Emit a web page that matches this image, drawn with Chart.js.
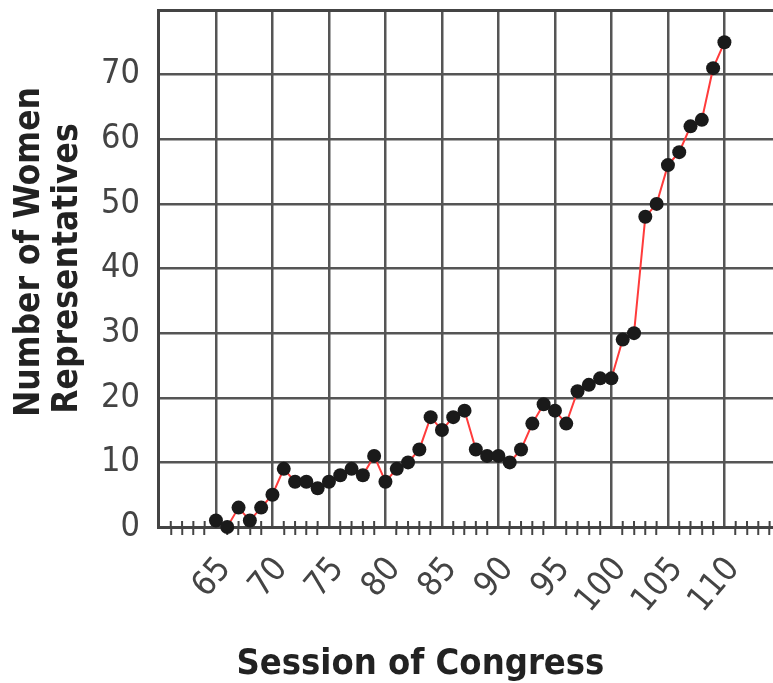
<!DOCTYPE html>
<html>
<head>
<meta charset="utf-8">
<title>Women Representatives by Session of Congress</title>
<script src="https://cdn.jsdelivr.net/npm/chart.js@4/dist/chart.umd.min.js"></script>
<style>
  html, body { margin: 0; padding: 0; background: #fff; overflow: hidden; }
  canvas { display: block; }
</style>
</head>
<body>
<canvas id="chart" width="773" height="683"></canvas>
<script>
// values, one per session
const sessions = [65, 66, 67, 68, 69, 70, 71, 72, 73, 74, 75, 76, 77, 78, 79, 80, 81, 82, 83, 84, 85, 86, 87,
    88, 89, 90, 91, 92, 93, 94, 95, 96, 97, 98, 99, 100, 101, 102, 103, 104, 105, 106, 107, 108, 109, 110];
const womenReps = [1, 0, 3, 1, 3, 5, 9, 7, 7, 6, 7, 8, 9, 8, 11, 7, 9, 10, 12, 17, 15, 17, 18,
    12, 11, 11, 10, 12, 16, 19, 18, 16, 21, 22, 23, 23, 29, 30, 48, 50, 56, 58, 62, 63, 71, 75];
const xTickLabels = [65, 70, 75, 80, 85, 90, 95, 100, 105, 110];
const yTickLabels = [0, 10, 20, 30, 40, 50, 60, 70];

const FONT = "'DejaVu Sans Condensed', 'DejaVu Sans', sans-serif";
const gridColor = '#555';

const points = sessions.map((s, i) => ({ x: s, y: womenReps[i] }));

// no extra room around the plot, the picture is cropped tight
function noPadding(scale) {
    scale.paddingLeft = 0;
    scale.paddingRight = 0;
    scale.paddingTop = 0;
    scale.paddingBottom = 0;
}

// minor ticks poke a little above the axis line too
const minorTicksUp = {
    id: 'minorTicksUp',
    beforeDatasetsDraw(chart) {
        const x = chart.scales.x;
        const ctx = chart.ctx;
        ctx.save();
        ctx.strokeStyle = '#444';
        ctx.lineWidth = 2;
        ctx.beginPath();
        x.ticks.forEach(t => {
            if (t.value % 5 === 0) return;
            const px = x.getPixelForValue(t.value);
            ctx.moveTo(px, x.top - 6);
            ctx.lineTo(px, x.top);
        });
        ctx.stroke();
        ctx.restore();
    }
};

new Chart(document.getElementById('chart'), {
    type: 'line',
    data: {
        datasets: [{
            data: points,
            borderColor: '#ff3b3b',
            borderWidth: 2,
            pointRadius: 7,
            pointHoverRadius: 7,
            pointBackgroundColor: '#1a1a1a',
            pointBorderWidth: 0,
            tension: 0,
            clip: false
        }]
    },
    plugins: [minorTicksUp],
    options: {
        responsive: false,
        animation: false,
        events: [],
        layout: { padding: { top: 10 }, autoPadding: false },
        plugins: {
            legend: { display: false },
            tooltip: { enabled: false }
        },
        scales: {
            x: {
                type: 'linear',
                min: 59.87,
                max: 114.3,
                afterFit: scale => { scale.height = 156; noPadding(scale); },
                ticks: {
                    stepSize: 1,
                    includeBounds: false,
                    autoSkip: false,
                    minRotation: 50,
                    maxRotation: 50,
                    padding: 15,
                    labelOffset: 9,
                    color: '#444',
                    font: { family: FONT, size: 34 },
                    callback: v => xTickLabels.includes(v) ? String(v) : ''
                },
                grid: {
                    color: ctx => xTickLabels.includes(ctx.tick.value) ? gridColor : 'transparent',
                    lineWidth: 2.5,
                    tickLength: 8,
                    tickWidth: 2,
                    tickColor: ctx => ctx.tick.value % 5 === 0 ? 'transparent' : '#444'
                },
                border: { display: true, color: '#444', width: 3 },
                title: {
                    display: true,
                    text: 'Session of Congress        ',
                    color: '#222',
                    padding: 0,
                    font: { family: FONT, size: 36, weight: 'bold', lineHeight: 1.0 }
                }
            },
            y: {
                min: 0,
                max: 80,
                afterFit: scale => { scale.width = 158; noPadding(scale); },
                ticks: {
                    stepSize: 10,
                    padding: 18,
                    color: '#444',
                    font: { family: FONT, size: 34 },
                    callback: v => yTickLabels.includes(v) ? String(v) : ''
                },
                grid: {
                    color: ctx => ctx.tick.value === 80 ? '#444' : gridColor,
                    lineWidth: ctx => ctx.tick.value === 80 ? 3 : 2.5,
                    drawTicks: false
                },
                border: { display: true, color: '#444', width: 3 },
                title: {
                    display: true,
                    text: ['   Number of Women', 'Representatives'],
                    color: '#222',
                    padding: { top: 10, bottom: 0 },
                    font: { family: FONT, size: 35, weight: 'bold', lineHeight: 1.11 }
                }
            }
        }
    }
});
</script>
</body>
</html>
